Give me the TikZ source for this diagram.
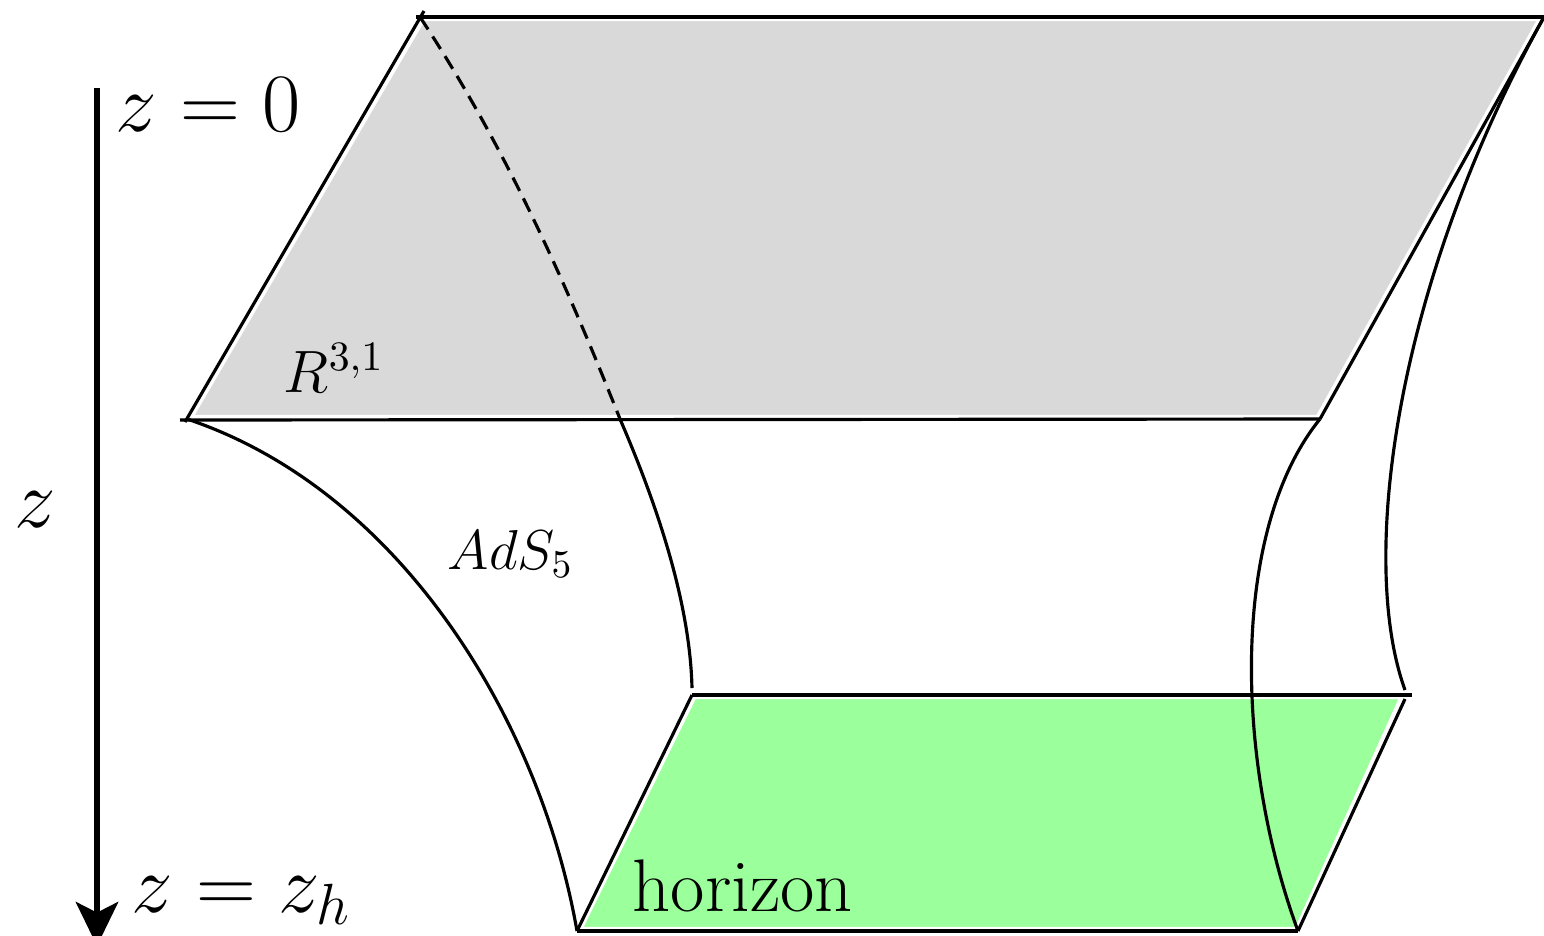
\RequirePackage{fix-cm}
\documentclass[tikz,border=0pt]{standalone}
\usetikzlibrary{arrows.meta}
\definecolor{horizongreen}{RGB}{155,255,155}
\definecolor{boundgray}{RGB}{217,217,217}
\begin{document}
\begin{tikzpicture}[x=0.01cm,y=-0.01cm,
  edge/.style={line width=0.9pt},
  dashedge/.style={line width=0.9pt, dash pattern=on 4.2pt off 2.4pt},
  fillwhite/.style={draw=white, line width=0.6pt},
  lbl/.style={inner sep=0pt, anchor=base west},
  zlbl/.style={lbl, font=\fontsize{23.6}{28}\selectfont},
  rlbl/.style={lbl, font=\fontsize{17}{21}\selectfont},
  mlbl/.style={lbl, font=\fontsize{16}{20}\selectfont},
  hlbl/.style={lbl, font=\fontsize{21.2}{25}\selectfont},
]
\useasboundingbox (0,0) rectangle (1544,935);
% corners
\coordinate (A) at (420,17);
\coordinate (B) at (1544,17);
\coordinate (C) at (1320,419);
\coordinate (D) at (187,419);
\coordinate (M) at (620,419);
\coordinate (E) at (692,695);
\coordinate (F) at (1406,695);
\coordinate (G) at (1298,931);
\coordinate (H) at (577,931);
\coordinate (Atick) at (424,11);
\coordinate (Atop) at (416,17);
\coordinate (Dtick) at (185,422);
\coordinate (Dleft) at (180,420);
\coordinate (Ftop) at (1412,695);
\coordinate (Fright) at (1405,699);
\coordinate (Mend) at (692,688);
\coordinate (Bend) at (1405,690);
\coordinate (ztop) at (97,88);
\coordinate (zbot) at (97,946);
% fills
\fill[boundgray, fillwhite] (424,20) -- (1538,20) -- (1317,416) -- (193,416) -- cycle;
\fill[horizongreen, fillwhite] (695,698) -- (1400,698) -- (1296,928) -- (582,928) -- cycle;
% boundary plane
\draw[edge] (Atop) -- (B);
\draw[edge] (Atick) -- (Dtick);
\draw[edge] (Dleft) -- (C);
\draw[edge] (B) -- (C);
\draw[dashedge] (A) .. controls (506,147) and (568,288) .. (M);
% horizon plane
\draw[edge] (E) -- (Ftop);
\draw[edge] (E) -- (H);
\draw[edge] (H) -- (G);
\draw[edge] (Fright) -- (G);
% bulk curves
\draw[edge] (D) .. controls (400,490) and (540,720) .. (H);
\draw[edge] (M) .. controls (655,500) and (690,600) .. (Mend);
\draw[edge] (C) .. controls (1230,530) and (1235,760) .. (G);
\draw[edge] (B) .. controls (1395,285) and (1358,560) .. (Bend);
% z axis
\draw[line width=1.8pt, -{Stealth[length=12.5pt,width=12pt,inset=3pt]}] (ztop) -- (zbot);
% labels
\node[zlbl] (z0) at (115,131) {$z=0$};
\node[zlbl, anchor=base] (zz) at (35,527) {$z$};
\node[zlbl] (zh) at (131,912) {$z=z_h$};
\node[rlbl] (R) at (283,392) {$R^{3,1}$};
\node[mlbl] (ads) at (447,569) {$AdS_5$};
\node[hlbl] (hor) at (632,911) {horizon};
\end{tikzpicture}
\end{document}
